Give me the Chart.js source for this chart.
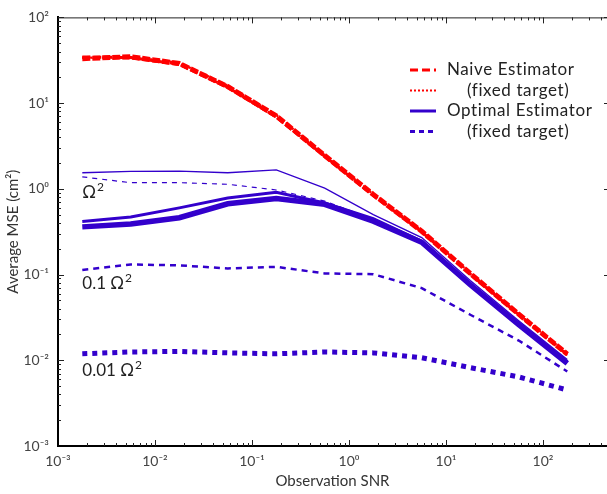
<!DOCTYPE html>
<html>
<head>
<meta charset="utf-8">
<script src="https://cdn.jsdelivr.net/npm/chart.js@4.4.0/dist/chart.umd.min.js"></script>
<style>
  html, body { margin: 0; padding: 0; background: #fff; overflow: hidden; }
</style>
</head>
<body>
<canvas id="mse" width="607" height="494"></canvas>
<script>
// observation SNR (half decade steps)
const snr = [0.00178, 0.00562, 0.0178, 0.0562, 0.178, 0.562, 1.78, 5.62, 17.8, 56.2, 178]

// naive estimator, one curve per target spread (they sit on top of each other)
const naiveA = [33.5, 33.0, 27.6, 14.9, 6.75, 2.33, 0.82, 0.31, 0.099, 0.033, 0.0114]
const naiveB = [34.5, 34.0, 28.5, 15.3, 6.9, 2.40, 0.84, 0.315, 0.101, 0.034, 0.0116]
const naiveC = [33.0, 34.8, 29.0, 15.6, 7.1, 2.45, 0.86, 0.32, 0.103, 0.0345, 0.0118]
const naiveFixedA = [34.0, 34.5, 30.0, 16.2, 7.4, 2.50, 0.88, 0.33, 0.105, 0.035, 0.0121]
const naiveFixedB = [33.8, 34.2, 29.5, 15.9, 7.2, 2.46, 0.86, 0.325, 0.104, 0.0348, 0.0119]

// optimal estimator for Omega^2, 0.1 Omega^2, 0.01 Omega^2
const optW1 = [1.54, 1.60, 1.61, 1.54, 1.66, 1.02, 0.50, 0.27, 0.085, 0.029, 0.0102]
const optW01 = [0.415, 0.47, 0.60, 0.78, 0.91, 0.685, 0.45, 0.245, 0.078, 0.027, 0.0096]
const optW001 = [0.36, 0.39, 0.46, 0.67, 0.77, 0.66, 0.42, 0.238, 0.076, 0.026, 0.0092]

// optimal estimator, fixed target
const fixW1 = [1.38, 1.18, 1.18, 1.13, 0.97, 0.72, 0.44, 0.24, 0.077, 0.026, 0.0093]
const fixW01 = [0.113, 0.131, 0.128, 0.118, 0.123, 0.103, 0.101, 0.0695, 0.034, 0.017, 0.0074]
const fixW001 = [0.0119, 0.0125, 0.0127, 0.0122, 0.0119, 0.0125, 0.0122, 0.0107, 0.0082, 0.0064, 0.0045]

const decades = [0.001, 0.01, 0.1, 1, 10, 100]
const legendLabels = ['Naive Estimator', '(fixed target)', 'Optimal Estimator', '(fixed target)']
const curveLabels = ['', '0.1 ', '0.01 ']
const curveLabelY = [0.92, 0.079, 0.0078]

const RED = '#ff0000'
const BLUE = '#3300cc'

function pts(vals) {
    return vals.map(function (v, i) { return {x: snr[i], y: v} })
}

function line(vals, color, width, dash) {
    return {
        data: pts(vals),
        borderColor: color,
        borderWidth: width,
        borderDash: dash,
        pointRadius: 0,
        fill: false,
        tension: 0
    }
}

const supDigits = {'-': '⁻', '0': '⁰', '1': '¹', '2': '²', '3': '³'}
function powLabel(v) {
    let e = Math.round(Math.log10(v))
    return '10' + String(e).split('').map(c => supDigits[c]).join('')
}

// legend sample styles
const legendStyles = [
    {color: RED, width: 3, dash: [8, 4]},
    {color: RED, width: 2, dash: [2, 2]},
    {color: BLUE, width: 3, dash: []},
    {color: BLUE, width: 3, dash: [5, 4]}
]

const extras = {
    id: 'extras',
    afterDraw(chart) {
        const ctx = chart.ctx
        const a = chart.chartArea
        const x = chart.scales.x
        const y = chart.scales.y
        ctx.save()
        // top frame line
        ctx.strokeStyle = '#222'
        ctx.lineWidth = 1
        ctx.beginPath()
        ctx.moveTo(a.left, a.top + 0.5)
        ctx.lineTo(a.right, a.top + 0.5)
        ctx.stroke()
        // inward ticks
        decades.forEach(function (d) {
            for (let m = 1; m < 10; m++) {
                let v = d * m
                let len = m === 1 ? 6 : 3
                let px = Math.round(x.getPixelForValue(v)) + 0.5
                if (px > a.left + 1 && px < a.right) {
                    ctx.beginPath()
                    ctx.moveTo(px, a.bottom); ctx.lineTo(px, a.bottom - len)
                    ctx.moveTo(px, a.top); ctx.lineTo(px, a.top + len)
                    ctx.stroke()
                }
                let py = Math.round(y.getPixelForValue(v)) + 0.5
                if (py > a.top && py < a.bottom - 1) {
                    ctx.beginPath()
                    ctx.moveTo(a.left, py); ctx.lineTo(a.left + len, py)
                    ctx.moveTo(a.right, py); ctx.lineTo(a.right - len + 3, py)
                    ctx.stroke()
                }
            }
        })
        // curve labels: "<factor> Ω" with a raised 2
        ctx.fillStyle = '#222'
        ctx.textBaseline = 'alphabetic'
        ctx.textAlign = 'left'
        curveLabels.forEach(function (t, i) {
            let tx = x.getPixelForValue(snr[0])
            let ty = y.getPixelForValue(curveLabelY[i]) + 6
            ctx.font = '17px Lato'
            let s = t + 'Ω'
            ctx.fillText(s, tx, ty)
            let w = ctx.measureText(s).width
            ctx.font = '12px Lato'
            ctx.fillText('2', tx + w + 1, ty - 7)
        })
        // legend
        const lx = 410, ly = 70, step = 20.5
        ctx.textBaseline = 'middle'
        legendLabels.forEach(function (t, i) {
            let s = legendStyles[i]
            let yy = ly + i * step
            ctx.strokeStyle = s.color
            ctx.lineWidth = s.width
            ctx.setLineDash(s.dash)
            ctx.beginPath()
            ctx.moveTo(lx, yy); ctx.lineTo(lx + 26, yy)
            ctx.stroke()
            ctx.setLineDash([])
            ctx.fillStyle = '#222'
            ctx.font = '17px Lato'
            ctx.letterSpacing = '0.6px'
            ctx.fillText(t, i % 2 === 0 ? 447 : 467, yy)
            ctx.letterSpacing = '0px'
        })
        ctx.restore()
    }
}

new Chart(document.getElementById('mse').getContext('2d'), {
    type: 'line',
    data: {
        datasets: [
            line(naiveFixedA, RED, 1.5, [2, 2]),
            line(naiveFixedB, RED, 2, [2, 2]),
            line(naiveA, RED, 1.5, [7, 3]),
            line(naiveB, RED, 3, [8, 3]),
            line(naiveC, RED, 5, [8, 2]),
            line(optW1, BLUE, 1.3, []),
            line(optW01, BLUE, 3, []),
            line(optW001, BLUE, 5.5, []),
            line(fixW1, BLUE, 1.2, [5, 5]),
            line(fixW01, BLUE, 2.5, [6, 5]),
            line(fixW001, BLUE, 5, [5, 5])
        ]
    },
    options: {
        responsive: false,
        animation: false,
        layout: {padding: {top: 10, right: 0, left: 0, bottom: 0}},
        plugins: {legend: {display: false}, tooltip: {enabled: false}},
        scales: {
            x: {
                type: 'logarithmic',
                min: 0.001,
                max: 457,
                afterBuildTicks: function (scale) { scale.ticks = decades.map(v => ({value: v})) },
                afterFit: function (scale) { scale.height = 48 },
                grid: {display: false, drawTicks: false},
                border: {display: true, color: '#000', width: 2},
                ticks: {
                    autoSkip: false, maxRotation: 0, padding: 7,
                    color: '#444', font: {family: 'Lato', size: 14},
                    callback: v => powLabel(v)
                },
                title: {display: true, text: 'Observation SNR', color: '#333', font: {family: 'Lato', size: 15}}
            },
            y: {
                type: 'logarithmic',
                min: 0.001,
                max: 100,
                afterBuildTicks: function (scale) { scale.ticks = decades.map(v => ({value: v})) },
                afterFit: function (scale) { scale.width = 58 },
                grid: {display: false, drawTicks: false},
                border: {display: true, color: '#000', width: 2},
                ticks: {
                    autoSkip: false, padding: 9,
                    color: '#444', font: {family: 'Lato', size: 14},
                    callback: v => powLabel(v)
                },
                title: {display: true, text: 'Average MSE (cm²)', color: '#333', font: {family: 'Lato', size: 15}}
            }
        }
    },
    plugins: [extras]
})
</script>
</body>
</html>
